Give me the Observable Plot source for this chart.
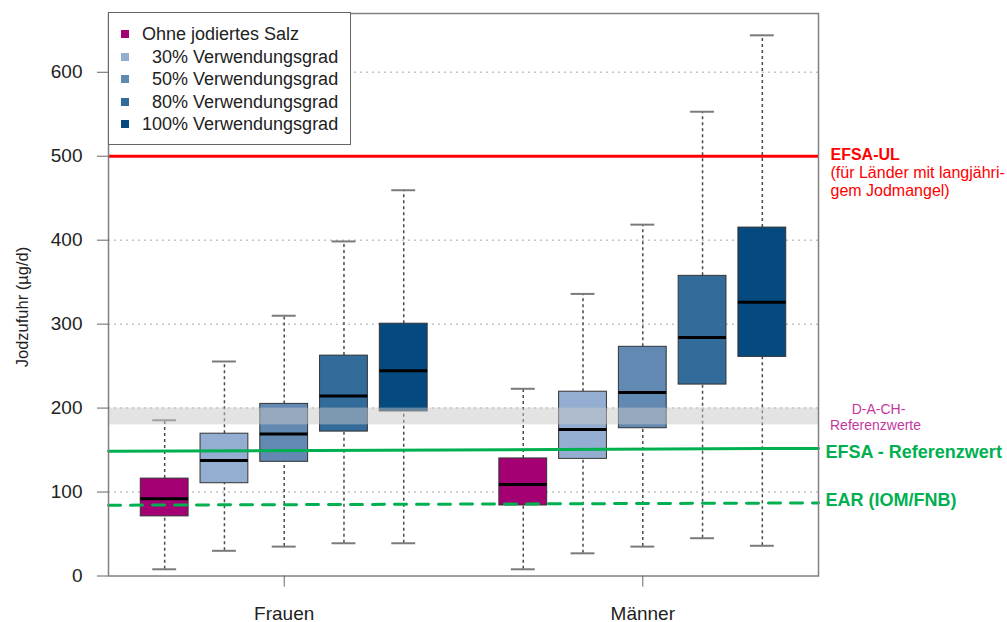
<!DOCTYPE html>
<html><head><meta charset="utf-8">
<script src="https://cdn.jsdelivr.net/npm/d3@7"></script>
<script src="https://cdn.jsdelivr.net/npm/@observablehq/plot@0.6"></script>
<style>
body{margin:0;background:#fff;font-family:"Liberation Sans",Arial,sans-serif;}
#wrap{position:relative;width:1007px;height:622px;}
#legend{position:absolute;left:108px;top:12px;width:243px;height:133px;border:1.5px solid #666;background:#fff;box-sizing:border-box;}
.item{position:absolute;left:33px;font-size:18px;color:#222;white-space:pre;line-height:1;}
.sw{position:absolute;left:12px;width:8px;height:8px;}
#ylab{position:absolute;left:22px;top:307px;transform:translate(-50%,-50%) rotate(-90deg);font-size:16.5px;color:#222;white-space:nowrap;}
</style></head>
<body>
<div id="wrap"><div id="chart"></div><div id="legend"></div><div id="ylab">Jodzufuhr (µg/d)</div></div>
<script>
const groups = ["Frauen", "Männer"];
const groupTickPos = [3, 9];
const series = ["Ohne jodiertes Salz", "  30% Verwendungsgrad", "  50% Verwendungsgrad", "  80% Verwendungsgrad", "100% Verwendungsgrad"];
const colors = ["#a50073", "#93aed0", "#6289b2", "#336b9b", "#044a7e"];
const positions = [1, 2, 3, 4, 5, 7, 8, 9, 10, 11];
const whiskerLow = [8, 30, 35, 39, 39, 8, 27, 35, 45, 36];
const q1 = [71, 110.5, 136, 172, 196, 84, 139.5, 176, 228, 261];
const median = [92, 137.5, 169, 214.5, 244.5, 109, 174.5, 218.5, 284, 326];
const q3 = [116, 169.5, 205, 262.5, 300.5, 140, 219.5, 273, 357.5, 415];
const whiskerHigh = [185.5, 255.5, 310, 398.5, 459.5, 223, 336, 418.5, 553, 644];
const yTicks = [0, 100, 200, 300, 400, 500, 600];
const gridValues = [100, 200, 300, 400, 500, 600];
const efsaUL = 500;
const dachBand = [180, 200];
const efsaRef = [148.5, 152];
const ear = [84.3, 87];
const xDomain = [0.06, 11.94];
const yDomain = [0, 670];

const rows = positions.map((p, i) => ({
  pos: p, series: series[i % 5], group: groups[Math.floor(i / 5)],
  lo: whiskerLow[i], q1: q1[i], med: median[i], q3: q3[i], hi: whiskerHigh[i]
}));
const efsaLine = [{x: xDomain[0], y: efsaRef[0]}, {x: xDomain[1], y: efsaRef[1]}];
const earLine = [{x: xDomain[0], y: ear[0]}, {x: xDomain[1], y: ear[1]}];

const green = "#00b050";
const plot = Plot.plot({
  width: 1007, height: 622,
  marginLeft: 108, marginRight: 189, marginTop: 13, marginBottom: 46.5,
  style: {fontFamily: "Liberation Sans, Arial, sans-serif", background: "#fff", color: "#222"},
  x: {type: "linear", domain: xDomain},
  y: {domain: yDomain, label: null},
  color: {domain: series, range: colors},
  marks: [
    Plot.ruleY(gridValues, {stroke: "#c4c4c4", strokeWidth: 1.5, strokeDasharray: "2,4"}),
    Plot.ruleX(rows, {x: "pos", y1: "q3", y2: "hi", stroke: "#4a4a4a", strokeWidth: 1.5, strokeDasharray: "3,3"}),
    Plot.ruleX(rows, {x: "pos", y1: "lo", y2: "q1", stroke: "#4a4a4a", strokeWidth: 1.5, strokeDasharray: "3,3"}),
    Plot.ruleY(rows, {y: "hi", x1: d => d.pos - 0.2, x2: d => d.pos + 0.2, stroke: "#7a7a7a", strokeWidth: 2}),
    Plot.ruleY(rows, {y: "lo", x1: d => d.pos - 0.2, x2: d => d.pos + 0.2, stroke: "#7a7a7a", strokeWidth: 2}),
    Plot.rect(rows, {x1: d => d.pos - 0.4, x2: d => d.pos + 0.4, y1: "q1", y2: "q3", fill: "series", stroke: "#333", strokeWidth: 1}),
    Plot.ruleY(rows, {y: "med", x1: d => d.pos - 0.4, x2: d => d.pos + 0.4, stroke: "#000", strokeWidth: 3}),
    Plot.rect([dachBand], {x1: () => xDomain[0], x2: () => xDomain[1], y1: d => d[0], y2: d => d[1], fill: "#c8c8c8", fillOpacity: 0.5}),
    Plot.ruleY([efsaUL], {stroke: "#ff0000", strokeWidth: 3}),
    Plot.line(efsaLine, {x: "x", y: "y", stroke: green, strokeWidth: 3}),
    Plot.line(earLine, {x: "x", y: "y", stroke: green, strokeWidth: 3, strokeDasharray: "12,10"}),
    Plot.frame({stroke: "#808080", strokeWidth: 1.5}),
    Plot.axisY(yTicks, {tickSize: 11, tickPadding: 15, fontSize: 19, stroke: "#666", fill: "#222", label: null}),
    Plot.axisX(groupTickPos, {tickSize: 11, tickPadding: 19, fontSize: 19, stroke: "#666", fill: "#222", label: null,
      tickFormat: d => groups[groupTickPos.indexOf(d)]}),
    Plot.text([efsaUL], {y: d => d, frameAnchor: "right", dx: 12, dy: -1.5, textAnchor: "start", text: () => "EFSA-UL", fill: "#ff0000", fontWeight: "bold", fontSize: 16}),
    Plot.text([efsaUL], {y: d => d, frameAnchor: "right", dx: 12, dy: 16.5, textAnchor: "start", text: () => "(für Länder mit langjähri-", fill: "#ff0000", fontSize: 16}),
    Plot.text([efsaUL], {y: d => d, frameAnchor: "right", dx: 12, dy: 34.5, textAnchor: "start", text: () => "gem Jodmangel)", fill: "#ff0000", fontSize: 16}),
    Plot.text([dachBand], {y: d => (d[0] + d[1]) / 2, frameAnchor: "right", dx: 60, dy: -7, textAnchor: "middle", text: () => "D-A-CH-", fill: "#c5379f", fontSize: 14}),
    Plot.text([dachBand], {y: d => (d[0] + d[1]) / 2, frameAnchor: "right", dx: 57, dy: 9.5, textAnchor: "middle", text: () => "Referenzwerte", fill: "#c5379f", fontSize: 14}),
    Plot.text([efsaRef[1]], {y: d => d, frameAnchor: "right", dx: 7, dy: 3.5, textAnchor: "start", text: () => "EFSA - Referenzwert", fill: green, fontWeight: "bold", fontSize: 18}),
    Plot.text([ear[1]], {y: d => d, frameAnchor: "right", dx: 7, dy: -3, textAnchor: "start", text: () => "EAR (IOM/FNB)", fill: green, fontWeight: "bold", fontSize: 18})
  ]
});
document.getElementById("chart").appendChild(plot);

const legend = document.getElementById("legend");
series.forEach((s, i) => {
  const c = 21 + 22.5 * i;
  const sw = document.createElement("div");
  sw.className = "sw"; sw.style.top = (c - 4) + "px"; sw.style.background = colors[i];
  legend.appendChild(sw);
  const t = document.createElement("div");
  t.className = "item"; t.style.top = (c - 9) + "px"; t.textContent = s;
  legend.appendChild(t);
});
</script>
</body></html>
